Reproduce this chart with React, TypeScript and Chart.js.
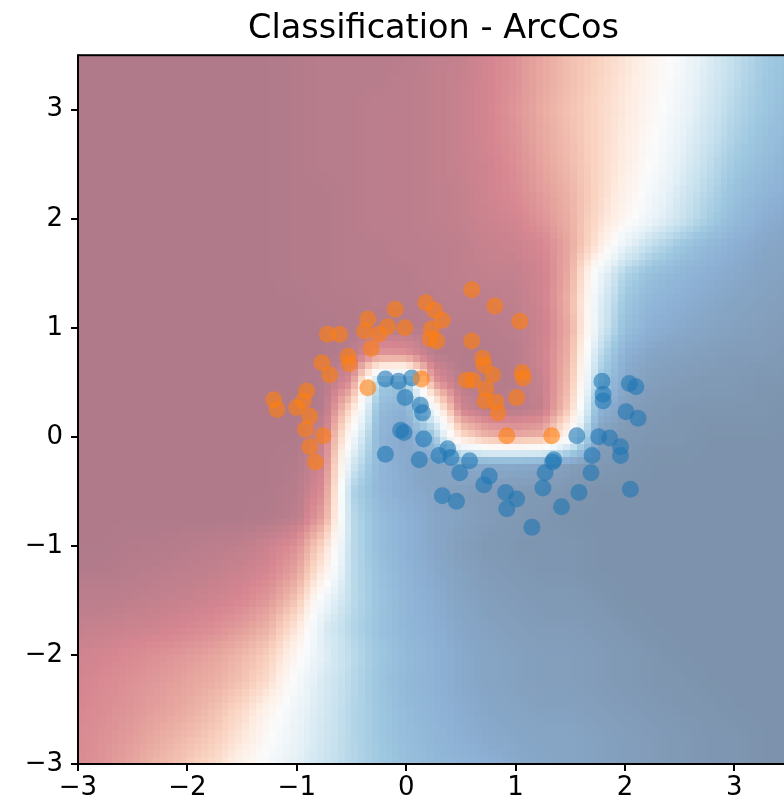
import React, { useEffect, useRef } from "react";
import { Chart, registerables } from "chart.js";

Chart.register(...registerables);

// ---------- data ----------
const chartTitle = "Classification - ArcCos";
const xTicks = [-3, -2, -1, 0, 1, 2, 3];
const yTicks = [-3, -2, -1, 0, 1, 2, 3];
const axisMin = -3;
const axisMax = 3.5;

// grid nodes of the decision surface (x left->right, y top->bottom)
const gridX = [-3, -2.75, -2.5, -2.25, -2, -1.75, -1.5, -1.25, -1, -0.75, -0.5, -0.25, 0, 0.25, 0.5, 0.75, 1, 1.25, 1.5, 1.75, 2, 2.25, 2.5, 2.75, 3, 3.25, 3.5];
const gridY = [3.5, 3.25, 3, 2.75, 2.5, 2.25, 2, 1.75, 1.5, 1.25, 1, 0.75, 0.5, 0.25, 0, -0.25, -0.5, -0.75, -1, -1.25, -1.5, -1.75, -2, -2.25, -2.5, -2.75, -3];

// probability (%) of the "blue" class at each grid node, one row per gridY value
const probRows = [
  [0,0,0,0,0,0,0,0,1,2,2,2,2,4,5,9,13,19,25,30,37,45,53,63,71,78,82],
  [0,0,0,0,0,0,0,0,1,2,2,2,3,4,6,9,13,19,25,31,38,46,54,64,72,79,83],
  [0,0,0,0,0,0,0,0,1,2,2,3,3,4,6,9,14,20,26,32,39,47,56,66,74,80,84],
  [0,0,0,0,0,0,0,0,1,2,2,3,3,4,6,9,13,19,25,32,40,49,59,68,76,82,86],
  [0,0,0,0,0,0,0,0,1,2,2,3,3,4,6,8,12,18,24,32,41,51,61,71,79,84,88],
  [0,0,0,0,0,0,0,0,1,1,2,3,3,4,5,8,11,16,22,32,43,54,65,74,82,87,90],
  [0,0,0,0,0,0,0,0,1,1,2,3,3,4,5,7,9,14,21,34,46,58,68,77,85,90,93],
  [0,0,0,0,0,0,0,0,1,1,2,2,3,3,4,6,7,10,19,38,60,72,80,86,90,93,94],
  [0,0,0,0,0,0,0,0,1,1,2,2,2,3,4,5,5,8,20,55,75,83,87,90,92,94,95],
  [0,0,0,0,0,0,0,0,0,1,1,2,2,2,3,3,4,8,22,60,80,87,90,92,94,95,96],
  [0,0,0,0,0,0,0,0,0,0,1,1,1,2,2,2,3,7,20,62,83,90,92,94,95,96,97],
  [0,0,0,0,0,0,0,0,0,0,2,15,14,2,1,1,2,8,22,70,90,94,95,96,97,97,98],
  [0,0,0,0,0,0,0,0,0,1,12,78,82,15,2,1,2,6,25,78,93,96,97,98,98,99,99],
  [0,0,0,0,0,0,0,0,0,1,35,85,90,55,8,2,2,5,30,88,96,98,99,99,99,99,100],
  [0,0,0,0,0,0,0,0,0,6,52,88,93,82,35,22,20,22,50,95,98,99,99,100,100,100,100],
  [0,0,0,0,0,0,0,0,1,8,65,87,92,95,92,92,92,93,96,98,99,100,100,100,100,100,100],
  [0,0,0,0,0,0,0,0,2,12,75,87,91,94,96,97,98,98,99,100,100,100,100,100,100,100,100],
  [0,0,0,0,0,0,0,1,3,18,72,84,89,93,95,97,98,99,100,100,100,100,100,100,100,100,100],
  [0,0,1,1,2,3,4,7,13,33,72,84,89,93,96,98,99,99,99,100,100,100,100,100,100,100,100],
  [1,1,2,3,4,5,7,10,18,42,72,82,88,92,95,97,98,99,99,100,100,100,100,100,100,100,100],
  [3,3,4,5,6,8,10,15,27,56,72,81,87,91,94,96,97,98,98,99,100,100,100,100,100,100,100],
  [5,6,7,8,10,12,16,22,38,64,74,82,87,90,93,95,96,97,97,98,99,100,100,100,100,100,100],
  [8,9,11,13,15,18,23,30,47,62,72,80,85,89,92,94,95,96,96,97,98,99,100,100,100,100,100],
  [9,11,13,15,18,21,26,35,53,65,73,81,86,89,92,94,95,96,96,97,98,99,99,100,100,100,100],
  [10,12,14,17,20,25,33,45,57,66,74,80,85,88,91,93,94,95,95,96,97,98,99,99,100,100,100],
  [11,13,16,20,24,29,38,49,59,67,74,80,84,87,90,92,93,94,94,95,96,97,98,99,99,100,100],
  [11,14,18,23,28,34,44,54,61,68,74,79,83,86,88,90,92,93,94,95,96,97,98,99,99,100,100],
];

// class 1 (orange) samples
const orangeX = [0.60,0.81,1.04,0.18,0.26,0.33,-0.10,-0.35,-0.38,-0.25,-0.17,-0.01,-0.32,-0.72,-0.61,-0.53,-0.52,-0.77,-0.70,0.23,0.22,0.28,0.60,0.70,0.71,0.79,1.06,1.07,0.55,0.61,0.73,0.72,0.82,0.84,1.01,0.92,0.14,-0.35,-0.91,-0.94,-1.21,-1.18,-1.00,-0.88,-0.92,-0.76,-0.88,-0.83,1.33];
const orangeY = [1.35,1.20,1.06,1.23,1.16,1.07,1.17,1.08,0.97,0.94,1.01,1.00,0.81,0.94,0.94,0.74,0.67,0.68,0.57,0.99,0.90,0.88,0.88,0.72,0.66,0.57,0.59,0.54,0.52,0.52,0.44,0.33,0.32,0.22,0.36,0.01,0.53,0.45,0.42,0.33,0.34,0.25,0.27,0.19,0.07,0.01,-0.09,-0.23,0.01];

// class 0 (blue) samples
const blueX = [-0.19,-0.07,0.05,-0.01,0.13,0.15,-0.05,-0.02,0.16,-0.19,0.12,0.30,0.38,0.41,0.58,0.49,0.76,0.71,0.33,0.46,0.91,1.01,0.92,1.15,1.25,1.27,1.34,1.35,1.42,1.58,1.69,1.70,1.56,1.76,1.86,1.96,1.96,2.05,1.79,1.80,1.80,2.04,2.10,2.01,2.12];
const blueY = [0.53,0.51,0.54,0.36,0.29,0.22,0.06,0.04,-0.02,-0.16,-0.21,-0.17,-0.11,-0.19,-0.22,-0.33,-0.36,-0.44,-0.54,-0.59,-0.51,-0.57,-0.66,-0.83,-0.47,-0.33,-0.23,-0.21,-0.64,-0.51,-0.33,-0.17,0.01,0.00,-0.01,-0.09,-0.17,-0.48,0.51,0.39,0.33,0.49,0.46,0.23,0.17];

// ---------- styling helpers ----------
const FONT = "'DejaVu Sans', 'Liberation Sans', sans-serif";
const RDBU = [
  [103, 0, 31], [178, 24, 43], [214, 96, 77], [244, 165, 130], [253, 219, 199],
  [247, 247, 247], [209, 229, 240], [146, 197, 222], [67, 147, 195], [33, 102, 172], [5, 48, 97],
];
const SURFACE_ALPHA = 0.52;

function rdbuColor(t: number): string {
  const tt = Math.max(0, Math.min(1, t));
  const s = tt * (RDBU.length - 1);
  const k = Math.min(RDBU.length - 2, Math.floor(s));
  const f = s - k;
  const c = [0, 1, 2].map((i) => RDBU[k][i] + (RDBU[k + 1][i] - RDBU[k][i]) * f);
  const b = c.map((v) => Math.round(255 + (v - 255) * SURFACE_ALPHA));
  return `rgb(${b[0]},${b[1]},${b[2]})`;
}

function findCell(arr: number[], v: number): [number, number] {
  const asc = arr[1] > arr[0];
  for (let i = 0; i < arr.length - 1; i++) {
    const a = arr[i], b = arr[i + 1];
    const inside = asc ? v >= a && v <= b : v <= a && v >= b;
    if (inside) return [i, (v - a) / (b - a)];
  }
  if (asc ? v < arr[0] : v > arr[0]) return [0, 0];
  return [arr.length - 2, 1];
}

function surfaceAt(x: number, y: number): number {
  const [i, fx] = findCell(gridX, x);
  const [j, fy] = findCell(gridY, y);
  const p00 = probRows[j][i], p10 = probRows[j][i + 1];
  const p01 = probRows[j + 1][i], p11 = probRows[j + 1][i + 1];
  const top = p00 + (p10 - p00) * fx;
  const bot = p01 + (p11 - p01) * fx;
  return top + (bot - top) * fy;
}

const surfacePlugin = {
  id: "surface",
  beforeDatasetsDraw(chart: any) {
    const { ctx, chartArea, scales } = chart;
    const xs = scales.x, ys = scales.y;
    ctx.save();
    ctx.beginPath();
    ctx.rect(chartArea.left, chartArea.top, chartArea.width, chartArea.height);
    ctx.clip();
    const sub = 4;
    const nx = (gridX.length - 1) * sub;
    const ny = (gridY.length - 1) * sub;
    const dx = (gridX[gridX.length - 1] - gridX[0]) / nx;
    const dy = (gridY[gridY.length - 1] - gridY[0]) / ny;
    for (let a = 0; a < nx; a++) {
      const x0 = gridX[0] + a * dx, x1 = x0 + dx;
      const px0 = Math.round(xs.getPixelForValue(x0));
      const px1 = Math.round(xs.getPixelForValue(x1));
      for (let b = 0; b < ny; b++) {
        const y0 = gridY[0] + b * dy, y1 = y0 + dy;
        const py0 = Math.round(ys.getPixelForValue(y0));
        const py1 = Math.round(ys.getPixelForValue(y1));
        const p = surfaceAt((x0 + x1) / 2, (y0 + y1) / 2);
        ctx.fillStyle = rdbuColor(p / 100);
        ctx.fillRect(px0, py0, px1 - px0, py1 - py0);
      }
    }
    ctx.restore();
  },
  afterDraw(chart: any) {
    const { ctx, chartArea } = chart;
    ctx.save();
    ctx.strokeStyle = "#000";
    ctx.lineWidth = 2;
    ctx.strokeRect(chartArea.left, chartArea.top, chartArea.right - chartArea.left, chartArea.bottom - chartArea.top);
    ctx.restore();
  },
};

const fmtTick = (v: number | string) => {
  const n = Number(v);
  return n < 0 ? "\u2212" + Math.abs(n) : String(n);
};

export default function App() {
  const ref = useRef<HTMLCanvasElement | null>(null);

  useEffect(() => {
    if (!ref.current) return;
    const orange = orangeX.map((x, i) => ({ x, y: orangeY[i] }));
    const blue = blueX.map((x, i) => ({ x, y: blueY[i] }));
    const gridOpts = {
      display: true,
      drawOnChartArea: false,
      drawTicks: true,
      tickLength: 7,
      tickWidth: 2,
      color: "#000",
      lineWidth: 2,
    };
    const chart = new Chart(ref.current, {
      type: "scatter",
      data: {
        datasets: [
          {
            label: "class 1",
            data: orange,
            backgroundColor: "rgba(255,127,14,0.6)",
            borderWidth: 0,
            pointRadius: 8.5,
          },
          {
            label: "class 0",
            data: blue,
            backgroundColor: "rgba(31,119,180,0.6)",
            borderWidth: 0,
            pointRadius: 8.5,
          },
        ],
      },
      options: {
        responsive: false,
        animation: false,
        devicePixelRatio: 1,
        layout: { padding: { left: 0, right: 11, top: 0, bottom: 0 } },
        plugins: {
          legend: { display: false },
          tooltip: { enabled: false },
          title: {
            display: true,
            fullSize: false,
            text: chartTitle,
            color: "#000",
            font: { family: FONT, size: 33.5, weight: "normal" },
            padding: { top: 9, bottom: 6 },
          },
        },
        scales: {
          x: {
            type: "linear",
            min: axisMin,
            max: axisMax,
            afterBuildTicks: (s: any) => {
              s.ticks = xTicks.map((v) => ({ value: v }));
            },
            afterFit: (s: any) => {
              s.height = 42;
            },
            ticks: {
              color: "#000",
              font: { family: FONT, size: 26 },
              padding: 2,
              maxRotation: 0,
              autoSkip: false,
              callback: fmtTick,
            },
            grid: gridOpts,
            border: { display: false },
          },
          y: {
            type: "linear",
            min: axisMin,
            max: axisMax,
            afterBuildTicks: (s: any) => {
              s.ticks = yTicks.map((v) => ({ value: v }));
            },
            afterFit: (s: any) => {
              s.width = 78;
            },
            ticks: {
              color: "#000",
              font: { family: FONT, size: 26 },
              padding: 8,
              autoSkip: false,
              callback: fmtTick,
            },
            grid: gridOpts,
            border: { display: false },
          },
        },
      },
      plugins: [surfacePlugin],
    } as any);
    return () => chart.destroy();
  }, []);

  return (
    <div style={{ position: "fixed", left: 0, top: 0, width: 784, height: 806, overflow: "hidden", background: "#fff" }}>
      <canvas ref={ref} width={800} height={806} style={{ display: "block", width: 800, height: 806 }} />
    </div>
  );
}
